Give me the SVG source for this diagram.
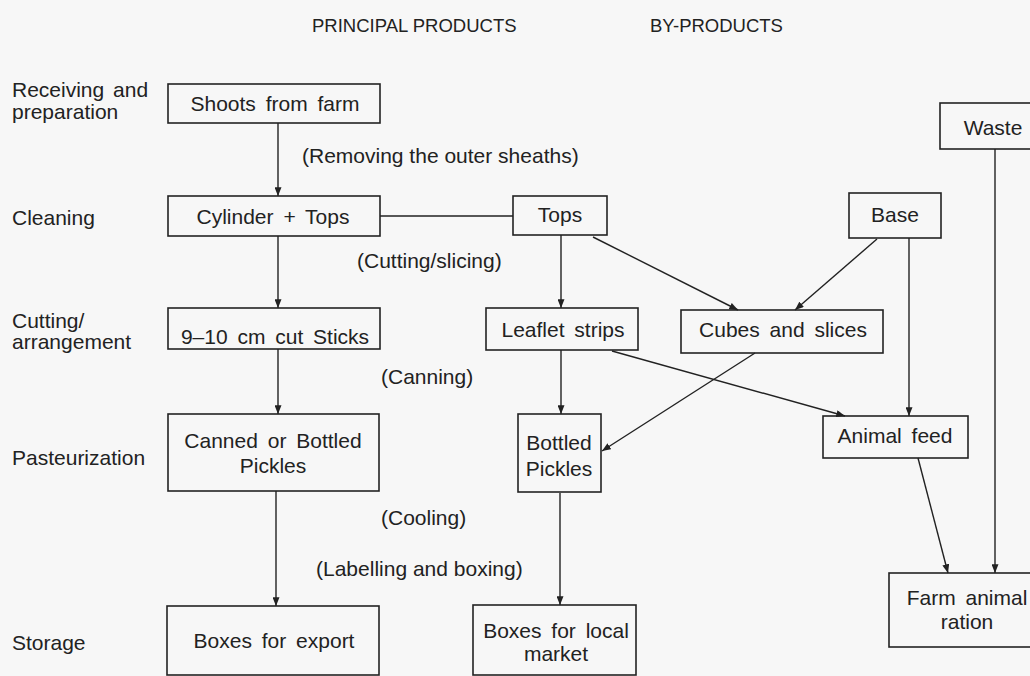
<svg xmlns="http://www.w3.org/2000/svg" width="1030" height="676" viewBox="0 0 1030 676">
<style>
  text { font-family: "Liberation Sans", Arial, sans-serif; fill: #222; }
  .hdr { font-size: 18.5px; }
  .lbl { font-size: 21px; word-spacing: 3px; }
  .note { font-size: 21px; }
  .bt { font-size: 21px; word-spacing: 4px; text-anchor: middle; }
  .box { fill: none; stroke: #222; stroke-width: 1.6; }
  .con line { stroke: #222; stroke-width: 1.4; }
</style>
<defs>
  <marker id="ah" viewBox="0 0 10 8" refX="10" refY="4" markerWidth="9" markerHeight="7" markerUnits="userSpaceOnUse" orient="auto">
    <path d="M0,0 L10,4 L0,8 z" fill="#222"/>
  </marker>
</defs>
<rect x="0" y="0" width="1030" height="676" fill="#f7f7f7"/>

<g id="headers">
  <text class="hdr" x="312" y="32">PRINCIPAL PRODUCTS</text>
  <text class="hdr" x="650" y="32">BY-PRODUCTS</text>
</g>

<g id="stages">
  <text class="lbl" x="12" y="97">Receiving and</text>
  <text class="lbl" x="12" y="119">preparation</text>
  <text class="lbl" x="12" y="225">Cleaning</text>
  <text class="lbl" x="12" y="328">Cutting/</text>
  <text class="lbl" x="12" y="349">arrangement</text>
  <text class="lbl" x="12" y="465">Pasteurization</text>
  <text class="lbl" x="12" y="650">Storage</text>
</g>

<g id="notes">
  <text class="note" x="302" y="163">(Removing the outer sheaths)</text>
  <text class="note" x="357" y="268">(Cutting/slicing)</text>
  <text class="note" x="381" y="384">(Canning)</text>
  <text class="note" x="381" y="525">(Cooling)</text>
  <text class="note" x="316" y="576">(Labelling and boxing)</text>
</g>

<g class="con" id="connectors">
  <line x1="278" y1="123" x2="278" y2="196" marker-end="url(#ah)"/>
  <line x1="380" y1="216" x2="513" y2="216"/>
  <line x1="278" y1="236" x2="278" y2="308" marker-end="url(#ah)"/>
  <line x1="278" y1="349" x2="278" y2="414" marker-end="url(#ah)"/>
  <line x1="276" y1="491" x2="276" y2="606" marker-end="url(#ah)"/>
  <line x1="561" y1="235" x2="561" y2="308" marker-end="url(#ah)"/>
  <line x1="593" y1="237" x2="738" y2="310" marker-end="url(#ah)"/>
  <line x1="877" y1="239" x2="795" y2="310" marker-end="url(#ah)"/>
  <line x1="909" y1="238" x2="909" y2="416" marker-end="url(#ah)"/>
  <line x1="612" y1="351" x2="845" y2="416" marker-end="url(#ah)"/>
  <line x1="755" y1="353" x2="602" y2="451" marker-end="url(#ah)"/>
  <line x1="561" y1="350" x2="561" y2="414" marker-end="url(#ah)"/>
  <line x1="560" y1="493" x2="560" y2="605" marker-end="url(#ah)"/>
  <line x1="918" y1="458" x2="948" y2="573" marker-end="url(#ah)"/>
  <line x1="995" y1="149" x2="995" y2="573" marker-end="url(#ah)"/>
</g>

<g id="shoots"><rect class="box" x="168" y="84" width="212" height="39"/><text class="bt" x="275" y="111">Shoots from farm</text></g>
<g id="cylinder"><rect class="box" x="168" y="196" width="212" height="40"/><text class="bt" x="273" y="224">Cylinder + Tops</text></g>
<g id="tops"><rect class="box" x="513" y="196" width="94" height="39"/><text class="bt" x="560" y="222">Tops</text></g>
<g id="base"><rect class="box" x="849" y="193" width="92" height="45"/><text class="bt" x="895" y="222">Base</text></g>
<g id="waste"><rect class="box" x="940" y="103" width="100" height="46"/><text class="bt" x="993" y="135">Waste</text></g>
<g id="sticks"><rect class="box" x="168" y="308" width="212" height="41"/><text class="bt" x="275" y="344">9–10 cm cut Sticks</text></g>
<g id="leaflet"><rect class="box" x="486" y="308" width="152" height="42"/><text class="bt" x="563" y="337">Leaflet strips</text></g>
<g id="cubes"><rect class="box" x="681" y="310" width="202" height="43"/><text class="bt" x="783" y="337">Cubes and slices</text></g>
<g id="canned"><rect class="box" x="168" y="414" width="211" height="77"/><text class="bt" x="273" y="448">Canned or Bottled</text><text class="bt" x="273" y="473">Pickles</text></g>
<g id="bottled"><rect class="box" x="518" y="414" width="83" height="78"/><text class="bt" x="559" y="450">Bottled</text><text class="bt" x="559" y="476">Pickles</text></g>
<g id="feed"><rect class="box" x="823" y="416" width="145" height="42"/><text class="bt" x="895" y="443">Animal feed</text></g>
<g id="ration"><rect class="box" x="889" y="573" width="150" height="74"/><text class="bt" x="967" y="605">Farm animal</text><text class="bt" x="967" y="629">ration</text></g>
<g id="export"><rect class="box" x="167" y="606" width="212" height="69"/><text class="bt" x="274" y="648">Boxes for export</text></g>
<g id="local"><rect class="box" x="473" y="605" width="163" height="70"/><text class="bt" x="556" y="638">Boxes for local</text><text class="bt" x="556" y="661">market</text></g>
</svg>
